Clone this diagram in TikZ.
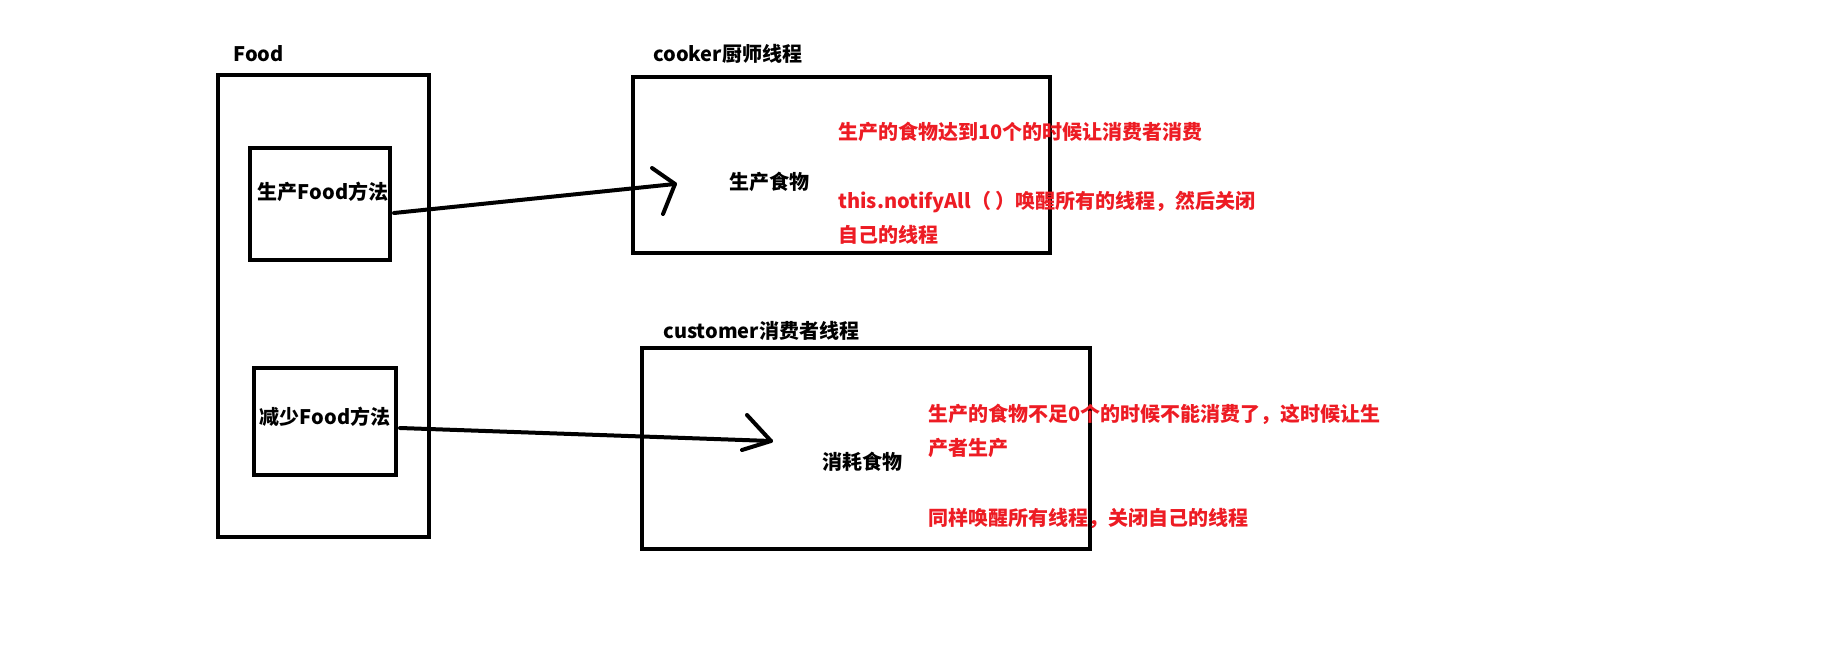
\documentclass[tikz,border=0pt]{standalone}
\usepackage{fontspec}
\setmainfont{Noto Sans CJK SC}
\usetikzlibrary{calc}
\definecolor{paintred}{RGB}{237,28,36}

\begin{document}
\begin{tikzpicture}[x=0.5pt,y=-0.5pt,
	box/.style={draw, line width=2pt, inner sep=0pt},
	lbl/.style={font=\bfseries\fontsize{10pt}{12pt}\selectfont, inner sep=0pt},
	note/.style={lbl, anchor=west, text=paintred},
	conn/.style={line width=2pt, line cap=round, line join=round}]
			\useasboundingbox (0,0) rectangle (1843,648);
			\node[box, minimum width=105.5pt, minimum height=231pt] (food) at (323.5,306) {};
			\node[box, minimum width=70pt, minimum height=56pt] (produce) at (320,204) {};
			\node[box, minimum width=71pt, minimum height=53.5pt] (reduce) at (325,421.5) {};
			\node[box, minimum width=208.5pt, minimum height=88pt] (cooker) at (841,165) {};
			\node[box, minimum width=224pt, minimum height=100.5pt] (customer) at (866,448.5) {};
			\node[lbl, anchor=west] (foodTitle) at (233,54) {Food};
			\node[lbl, anchor=west] (cookerTitle) at (653,54) {cooker厨师线程};
			\node[lbl, anchor=west] (customerTitle) at (663,331) {customer消费者线程};
			\node[lbl] (produceTxt) at (323,192) {生产Food方法};
			\node[lbl] (reduceTxt) at (325,417) {减少Food方法};
			\node[lbl] (cookTxt) at (769,182) {生产食物};
			\node[lbl] (eatTxt) at (862,462) {消耗食物};
			\node[note] (cookLineA) at (838,132) {生产的食物达到10个的时候让消费者消费};
			\node[note] (cookLineB) at (838,202) {this.notifyAll（ ）唤醒所有的线程，然后关闭};
			\node[note] (cookLineC) at (838,235) {自己的线程};
			\node[note] (custLineA) at (928,414) {生产的食物不足0个的时候不能消费了，这时候让生};
			\node[note] (custLineB) at (928,448) {产者生产};
			\node[note] (custLineC) at (928,518) {同样唤醒所有线程，关闭自己的线程};
			\coordinate (cookTip) at (675,184);
			\coordinate (custTip) at (771,441);
			\draw[conn] ($(produce.east)+(2,9)$) -- (cookTip);
			\draw[conn] ($(cookTip)+(-23,-16)$) -- (cookTip) -- ++(-12,30);
			\draw[conn] ($(reduce.east)+(2,6.5)$) -- (custTip);
			\draw[conn] ($(custTip)+(-24,-26)$) -- (custTip) -- ++(-29,9);
		\end{tikzpicture}
\end{document}
